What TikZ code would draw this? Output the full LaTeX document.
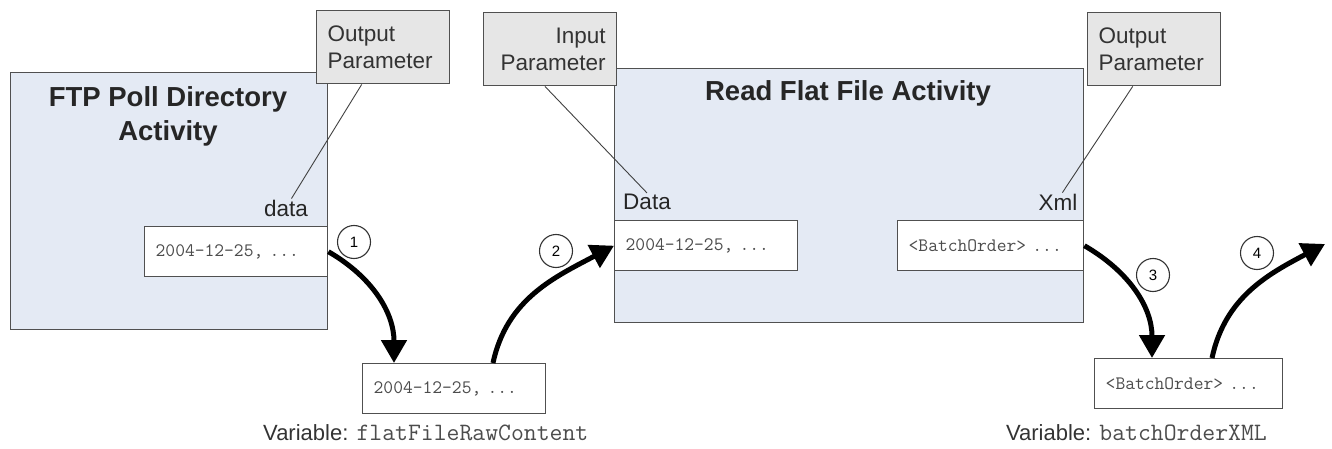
\documentclass[tikz,border=0pt]{standalone}
\usepackage{fontspec}
\setmainfont{Liberation Sans}
\usetikzlibrary{arrows.meta, calc}

\definecolor{actfill}{HTML}{E4EAF4}
\definecolor{parfill}{HTML}{E6E6E6}
\definecolor{edge}{HTML}{505050}

\begin{document}
\begin{tikzpicture}[
    x=1pt, y=-1pt,
    act/.style={draw=edge, fill=actfill, line width=1.4pt, anchor=north west, inner sep=0pt},
    title/.style={font=\fontsize{27.5}{34}\selectfont\bfseries, text=black!85, align=center},
    param/.style={draw=edge, fill=parfill, line width=1.4pt, anchor=north west,
                  minimum height=73pt, text width=111pt, inner xsep=11pt,
                  font=\fontsize{22.5}{27}\selectfont, text=black!80},
    portlbl/.style={font=\fontsize{22.5}{26}\selectfont, text=black!85, inner sep=1pt},
    val/.style={draw=edge, fill=white, line width=1.4pt, anchor=north west, minimum height=50pt,
                inner xsep=11pt, text width=#1, align=left,
                font=\ttfamily\fontsize{19}{22}\selectfont, text=black!70},
    num/.style={circle, draw=black!80, line width=1.1pt, minimum size=33pt, inner sep=0pt,
                font=\fontsize{15}{17}\selectfont},
    varlbl/.style={font=\fontsize{22}{26}\selectfont, text=black!80, inner sep=0pt},
    lead/.style={draw=black!75, line width=0.9pt},
    flow/.style={-{Triangle[length=23pt, width=25pt]}, line width=5pt, draw=black}
]
\useasboundingbox (0,0) rectangle (1332,449);

% activities
\node[act, minimum width=317pt, minimum height=257pt] (ftp) at (10,72) {};
\node[act, minimum width=469pt, minimum height=254pt] (rff) at (614,68) {};
\node[title] (ftptitle) at (168,116) {FTP Poll Directory\\Activity};
\node[title] (rfftitle) at (848,93) {Read Flat File Activity};

% parameter callouts
\node[param, align=left] (outa) at (316,10) {Output\\Parameter};
\node[param, align=right] (inp) at (483,12) {Input\\Parameter};
\node[param, align=left] (outb) at (1087,12) {Output\\Parameter};

\node[portlbl] (datout) at (286,208) {data};
\node[portlbl] (datin) at (647,202) {Data};
\node[portlbl] (xmlout) at (1058,202) {Xml};

\draw[lead] (outa.240) -- (datout.60);
\draw[lead] (inp.262) -- (datin.north);
\draw[lead] (outb.240) -- (xmlout.65);

% values
\node[val=161pt] (valftp) at (144,226) {2004-12-25, ...};
\node[val=161pt] (valin) at (614,220) {2004-12-25, ...};
\node[val=164pt] (valxml) at (897,220) {<BatchOrder> ...};
\node[val=161pt] (varraw) at (362,363) {2004-12-25, ...};
\node[val=166pt] (varxml) at (1094,358) {<BatchOrder> ...};

\node[varlbl, anchor=west] (rawname) at (263,433)
      {Variable: {\ttfamily\fontsize{25}{28}\selectfont\color{black!70}flatFileRawContent}};
\node[varlbl, anchor=east] (xmlname) at (1267,433)
      {Variable: {\ttfamily\fontsize{25}{28}\selectfont\color{black!70}batchOrderXML}};

% data flow
\coordinate (exit) at (1325,244);
\draw[flow] (valftp.east) to[out=-30, in=90] ($(varraw.north west)+(32,0)$);
\draw[flow] ($(varraw.north west)+(131,0)$) to[out=78, in=208] (valin.west);
\draw[flow] (valxml.east) to[out=-30, in=90] ($(varxml.north west)+(58,0)$);
\draw[flow] ($(varxml.north west)+(118,0)$) to[out=78, in=208] (exit);

\node[num] (n1) at (354,242) {1};
\node[num] (n2) at (556,251) {2};
\node[num] (n3) at (1153,275) {3};
\node[num] (n4) at (1257,253) {4};
\end{tikzpicture}
\end{document}
